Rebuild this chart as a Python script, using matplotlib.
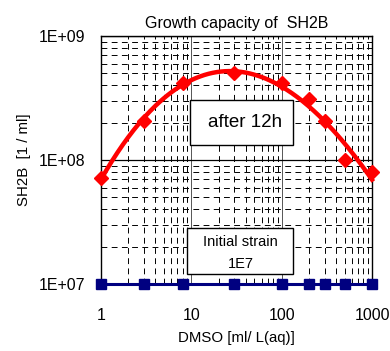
import numpy as np
import matplotlib
matplotlib.use("Agg")
import matplotlib.pyplot as plt
from matplotlib.ticker import LogLocator, NullFormatter
from matplotlib.patches import Rectangle

plt.rcParams['font.family'] = ['Liberation Sans', 'DejaVu Sans']

dmso = [1, 3, 8, 30, 100, 200, 300, 500, 1000]
after_12h = [7.2e7, 2.05e8, 4.15e8, 5.05e8, 4.15e8, 3.1e8, 2.05e8, 1.0e8, 8.0e7]
initial = [1e7, 1e7, 1e7, 1e7, 1e7, 1e7, 1e7, 1e7, 1e7]
xticks = [1, 10, 100, 1000]
xticklabels = ['1', '10', '100', '1000']
yticks = [1e7, 1e8, 1e9]
yticklabels = ['1E+07', '1E+08', '1E+09']

fig = plt.figure(figsize=(3.9, 3.51), dpi=100)
ax = fig.add_axes([101/390, 1-284/351, (372-101)/390, (284-36)/351])
ax.set_xscale('log')
ax.set_yscale('log')
ax.set_xlim(1, 1000)
ax.set_ylim(1e7, 1e9)

# grid
ax.xaxis.set_minor_locator(LogLocator(base=10, subs=np.arange(2, 10)))
ax.yaxis.set_minor_locator(LogLocator(base=10, subs=np.arange(2, 10)))
ax.xaxis.set_minor_formatter(NullFormatter())
ax.yaxis.set_minor_formatter(NullFormatter())
ax.grid(which='major', axis='x', color='#555555', linewidth=0.7, linestyle='-')
ax.grid(which='major', axis='y', color='black', linewidth=0.9, linestyle='-')
ax.grid(which='minor', color='black', linewidth=0.7, linestyle=(0, (6, 4.5)))
ax.set_axisbelow(True)

# fitted curve in log-log space
lx = np.log10(dmso)
ly = np.log10(after_12h)
coef = np.polyfit(lx, ly, 3)
xs = np.linspace(lx[0], lx[-1], 200)
ax.plot(10**xs, 10**np.polyval(coef, xs), color='#FF0000', linewidth=3.2, zorder=3, clip_on=False)
ax.plot(dmso, after_12h, linestyle='none', marker='D', markersize=6.8, color='#FF0000', zorder=4, clip_on=False)
ax.plot(dmso, initial, color='#000080', linewidth=2.2, marker='s', markersize=6.5, zorder=5, clip_on=False)

ax.set_xticks(xticks)
ax.set_xticklabels(xticklabels)
ax.set_yticks(yticks)
ax.set_yticklabels(yticklabels)
ax.tick_params(which='both', length=0)
ax.tick_params(axis='x', pad=17, labelsize=11.5)
ax.tick_params(axis='y', pad=11, labelsize=11.5)
for s in ax.spines.values():
    s.set_linewidth(1.0)

ax.set_title('Growth capacity of  SH2B', fontsize=11.5, pad=6)
ax.set_xlabel('DMSO [ml/ L(aq)]', fontsize=10.8, labelpad=6)
ax.set_ylabel('SH2B  [1 / ml]', fontsize=10.8, labelpad=5.5)

# text boxes
ax.add_patch(Rectangle((0.328, 0.560), 0.380, 0.182, transform=ax.transAxes,
                       facecolor='white', edgecolor='black', linewidth=1.0, zorder=6))
ax.text(0.53, 0.651, 'after 12h', transform=ax.transAxes, fontsize=13.5, ha='center', va='center', zorder=7)
ax.add_patch(Rectangle((0.317, 0.040), 0.391, 0.186, transform=ax.transAxes,
                       facecolor='white', edgecolor='black', linewidth=1.0, zorder=6))
ax.text(0.515, 0.170, 'Initial strain', transform=ax.transAxes, fontsize=10.5, ha='center', va='center', zorder=7)
ax.text(0.515, 0.080, '1E7', transform=ax.transAxes, fontsize=10.5, ha='center', va='center', zorder=7)

fig.savefig('out.png', dpi=100)
